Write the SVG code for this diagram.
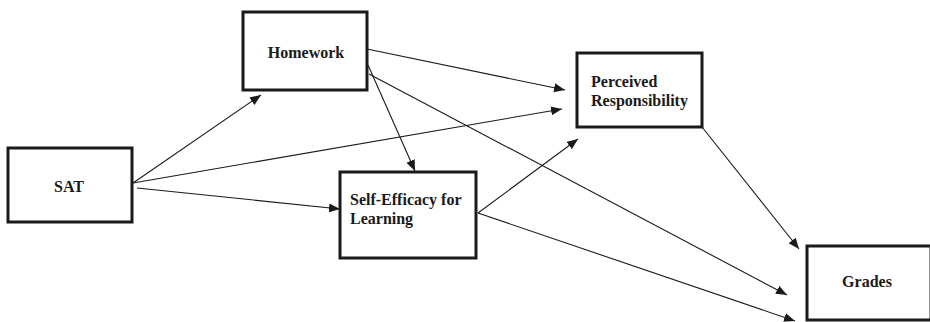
<svg xmlns="http://www.w3.org/2000/svg" width="930" height="322" viewBox="0 0 930 322">
<style>
.box{fill:#fff;stroke:#1a1a1a;stroke-width:3}
.lbl{font-family:"Liberation Serif","Times New Roman",serif;font-weight:bold;font-size:16px;fill:#1a1a1a}
.edge{stroke:#1a1a1a;stroke-width:1.1;fill:none;marker-end:url(#ah)}
</style>
<defs>
<marker id="ah" markerUnits="userSpaceOnUse" markerWidth="12" markerHeight="10" refX="11" refY="4.5" orient="auto">
<path d="M0,0 L11,4.5 L0,9 Z" fill="#1a1a1a"/>
</marker>
</defs>
<rect width="930" height="322" fill="#fff"/>
<g id="connectors">
<line class="edge" x1="133" y1="183" x2="261" y2="95"/>
<line class="edge" x1="133" y1="183" x2="562" y2="109"/>
<line class="edge" x1="137" y1="188" x2="340" y2="209"/>
<line class="edge" x1="367" y1="49" x2="565" y2="90"/>
<line class="edge" x1="368" y1="65" x2="415" y2="171"/>
<line class="edge" x1="369" y1="74" x2="787" y2="295"/>
<line class="edge" x1="478" y1="213" x2="578" y2="139"/>
<line class="edge" x1="478" y1="213" x2="795" y2="321"/>
<line class="edge" x1="702" y1="127" x2="799" y2="249"/>
</g>
<g id="sat">
<rect class="box" x="8" y="148" width="124" height="74"/>
<text class="lbl" x="69" y="192" text-anchor="middle">SAT</text>
</g>
<g id="homework">
<rect class="box" x="243" y="12" width="124" height="78"/>
<text class="lbl" x="306" y="58" text-anchor="middle">Homework</text>
</g>
<g id="self-efficacy">
<rect class="box" x="340" y="172" width="136" height="86"/>
<text class="lbl" x="350" y="205">Self-Efficacy for</text>
<text class="lbl" x="350" y="224">Learning</text>
</g>
<g id="perceived">
<rect class="box" x="577" y="53" width="125" height="74"/>
<text class="lbl" x="591" y="87">Perceived</text>
<text class="lbl" x="591" y="106">Responsibility</text>
</g>
<g id="grades">
<rect class="box" x="807" y="246" width="124" height="74"/>
<text class="lbl" x="867" y="287" text-anchor="middle">Grades</text>
</g>
</svg>
